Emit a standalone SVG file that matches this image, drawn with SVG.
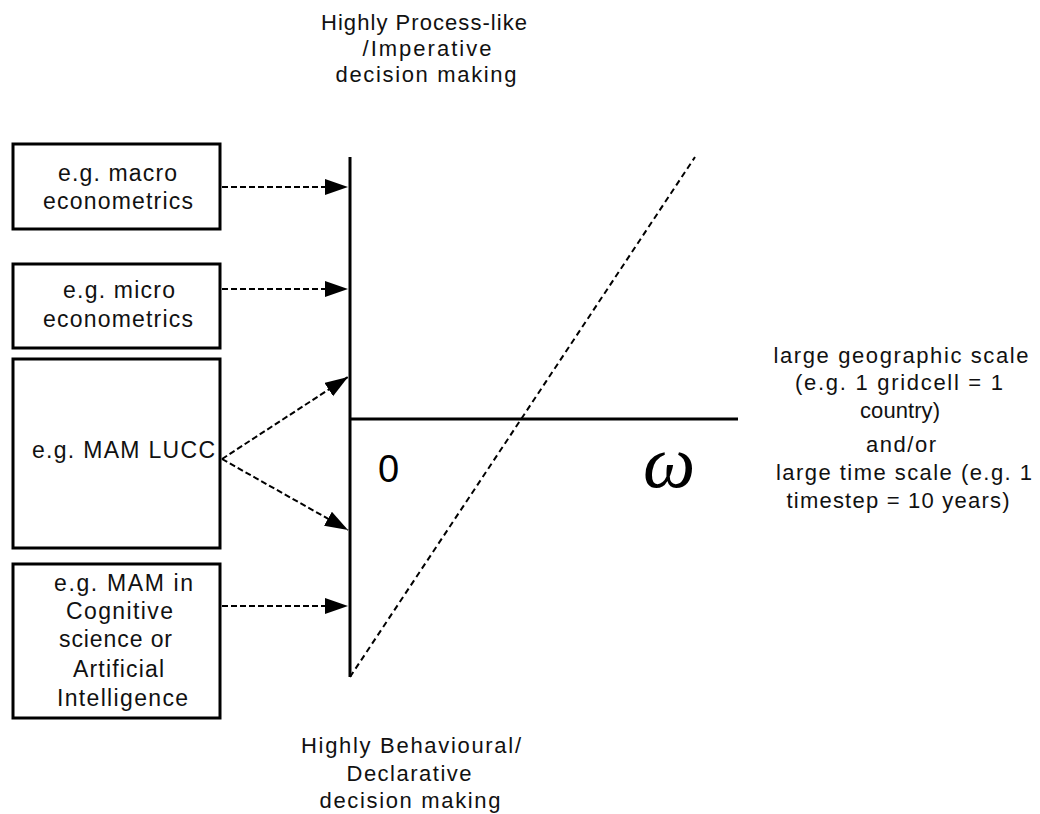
<svg xmlns="http://www.w3.org/2000/svg" width="1040" height="814" viewBox="0 0 1040 814">
<style>
.box{fill:#fff;stroke:#000;stroke-width:3}
.t{font-family:"Liberation Sans",Arial,sans-serif;font-size:23px;fill:#111;text-anchor:middle}
.s{font-size:22px}
.axis{stroke:#000;stroke-width:3;fill:none}
.dash{stroke:#000;stroke-width:2;fill:none;stroke-dasharray:6 3}
.diag{stroke:#000;stroke-width:2;fill:none;stroke-dasharray:6 4}
</style>
<defs>
<marker id="ah" markerUnits="userSpaceOnUse" markerWidth="24" markerHeight="17" refX="23" refY="8" orient="auto">
<path d="M0,0 L23,8 L0,16 z" fill="#000"/>
</marker>
</defs>
<rect width="1040" height="814" fill="#fff"/>

<g id="label-top">
<text class="t s" x="424" y="30" textLength="206" lengthAdjust="spacing">Highly Process-like</text>
<text class="t s" x="427" y="56" textLength="129" lengthAdjust="spacing">/Imperative</text>
<text class="t s" x="426" y="82" textLength="181" lengthAdjust="spacing">decision making</text>
</g>

<g id="label-bottom">
<text class="t s" x="411" y="753" textLength="220" lengthAdjust="spacing">Highly Behavioural/</text>
<text class="t s" x="409" y="781" textLength="125" lengthAdjust="spacing">Declarative</text>
<text class="t s" x="410" y="808" textLength="181" lengthAdjust="spacing">decision making</text>
</g>

<g id="label-right">
<text class="t s" x="901" y="363" textLength="255" lengthAdjust="spacing">large geographic scale</text>
<text class="t s" x="899" y="390" textLength="208" lengthAdjust="spacing">(e.g. 1 gridcell = 1</text>
<text class="t s" x="900" y="418" textLength="80" lengthAdjust="spacing">country)</text>
<text class="t s" x="901" y="452" textLength="70" lengthAdjust="spacing">and/or</text>
<text class="t s" x="904" y="480" textLength="256" lengthAdjust="spacing">large time scale (e.g. 1</text>
<text class="t s" x="898" y="508" textLength="223" lengthAdjust="spacing">timestep = 10 years)</text>
</g>

<g id="box-macro">
<rect class="box" x="13" y="144" width="207" height="85"/>
<text class="t" x="117.5" y="181" textLength="119" lengthAdjust="spacing">e.g. macro</text>
<text class="t" x="118" y="209" textLength="150" lengthAdjust="spacing">econometrics</text>
</g>

<g id="box-micro">
<rect class="box" x="13" y="264" width="207" height="84"/>
<text class="t" x="119" y="298" textLength="112" lengthAdjust="spacing">e.g. micro</text>
<text class="t" x="118" y="327" textLength="150" lengthAdjust="spacing">econometrics</text>
</g>

<g id="box-lucc">
<rect class="box" x="13" y="359" width="207" height="189"/>
<text class="t" x="123.5" y="458" textLength="183" lengthAdjust="spacing">e.g. MAM LUCC</text>
</g>

<g id="box-cog">
<rect class="box" x="13" y="564" width="207" height="154"/>
<text class="t" x="123.5" y="591" textLength="139" lengthAdjust="spacing">e.g. MAM in</text>
<text class="t" x="119.5" y="619" textLength="107" lengthAdjust="spacing">Cognitive</text>
<text class="t" x="115.5" y="647" textLength="113" lengthAdjust="spacing">science or</text>
<text class="t" x="118.5" y="677" textLength="91" lengthAdjust="spacing">Artificial</text>
<text class="t" x="122.5" y="706" textLength="131" lengthAdjust="spacing">Intelligence</text>
</g>

<g id="axes">
<line class="axis" x1="350" y1="157" x2="350" y2="677"/>
<line class="axis" x1="350" y1="419" x2="738" y2="419"/>
<line class="diag" x1="350" y1="677" x2="695" y2="157"/>
<text x="378" y="482" style="font-family:'Liberation Sans',Arial,sans-serif;font-size:38px">0</text>
<text x="643" y="487" style="font-family:'Liberation Serif','Times New Roman',serif;font-style:italic;font-size:74px">ω</text>
</g>

<g id="connectors">
<line class="dash" x1="222" y1="187" x2="348" y2="187" marker-end="url(#ah)"/>
<line class="dash" x1="222" y1="289" x2="348" y2="289" marker-end="url(#ah)"/>
<line class="dash" x1="222" y1="459" x2="348" y2="377" marker-end="url(#ah)"/>
<line class="dash" x1="222" y1="459" x2="348" y2="530" marker-end="url(#ah)"/>
<line class="dash" x1="222" y1="606" x2="348" y2="606" marker-end="url(#ah)"/>
</g>
</svg>
